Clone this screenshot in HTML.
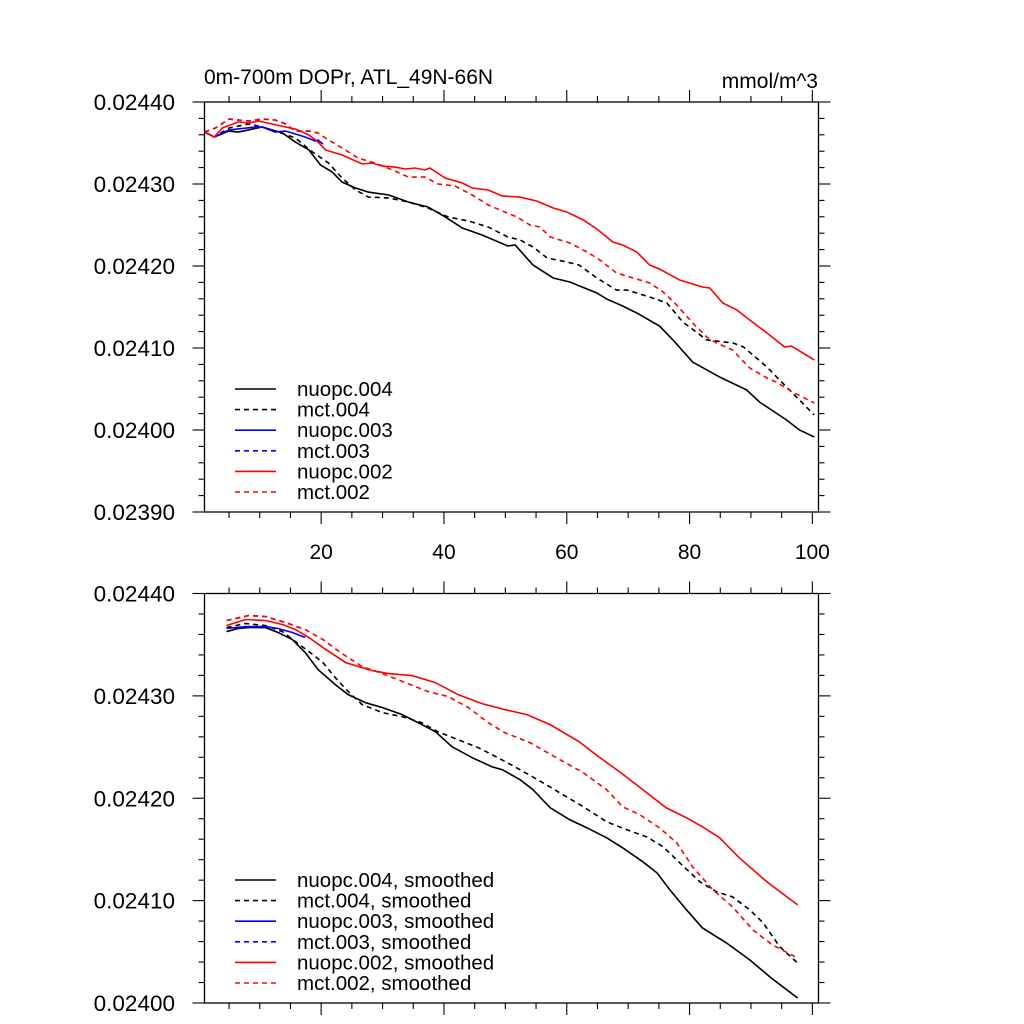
<!DOCTYPE html>
<html><head><meta charset="utf-8"><style>
html,body{margin:0;padding:0;background:#fff;}
svg{display:block;font-family:"Liberation Sans",sans-serif;}
</style></head><body>
<svg id="chart" width="1024" height="1024" viewBox="0 0 1024 1024" xmlns="http://www.w3.org/2000/svg">
<rect width="1024" height="1024" fill="#fff"/>
<text x="204" y="84" font-size="21">0m-700m DOPr, ATL_49N-66N</text>
<text x="818" y="88" font-size="21" text-anchor="end">mmol/m^3</text>
<g id="top"></g><g id="bot"></g>
</svg>
<script>
// ---- top panel data ----
const topYTicks = [0.02390, 0.02400, 0.02410, 0.02420, 0.02430, 0.02440];
const botYTicks = [0.02400, 0.02410, 0.02420, 0.02430, 0.02440];
const xTicks = [20, 40, 60, 80, 100];
const topLegend = ["nuopc.004","mct.004","nuopc.003","mct.003","nuopc.002","mct.002"];
const botLegend = ["nuopc.004, smoothed","mct.004, smoothed","nuopc.003, smoothed","mct.003, smoothed","nuopc.002, smoothed","mct.002, smoothed"];

const t_n004_x = [1,2.6,5,6.5,10.4,13.7,15.8,18,19.9,21.8,23.4,25.6,27.7,31,34.2,37.4,40.2,43,46.2,50.4,51.6,54.5,57.8,60.5,64.9,66.5,69.1,71.4,75.1,77.3,80.5,84.9,89.3,91.4,95.8,97.9,100.3];
const t_n004_y = [.0243634,.0243573,.0243646,.0243634,.0243695,.0243622,.0243512,.0243415,.0243232,.0243146,.0243024,.0242951,.0242902,.0242866,.024278,.024272,.0242598,.0242463,.0242378,.0242244,.0242256,.0242012,.0241854,.0241805,.0241671,.0241598,.0241512,.0241427,.0241268,.0241098,.0240829,.0240646,.0240488,.0240341,.0240122,.024,.0239915];

const t_m004_x = [1,2.6,5,8.2,10.4,13,15.8,18.6,21.2,23.4,25.6,27.7,31,34.2,37.4,40.7,44,47.2,50.4,52.4,54.5,56.8,60,62,64.9,68.1,69.8,73.5,76.3,78.9,82.8,87.1,88.8,92.6,95.8,100.3];
const t_m004_y = [.0243634,.0243573,.0243683,.0243732,.0243695,.0243634,.0243561,.024339,.0243256,.0243073,.0242927,.0242841,.0242829,.024278,.0242707,.0242598,.0242549,.0242476,.0242354,.0242317,.0242232,.0242098,.0242049,.0242012,.0241854,.0241707,.0241707,.0241622,.0241549,.0241317,.0241098,.0241061,.0241012,.0240768,.0240524,.0240183];

const t_n003_x = [1,2.6,5,6.5,9.3,10.4,12.5,14.2,15.8,17.4,19,19.5,20.3];
const t_n003_y = [.0243634,.0243573,.0243659,.0243671,.0243695,.0243695,.0243634,.0243646,.024361,.0243573,.0243524,.0243537,.0243488];

const t_m003_x = [1,2.8,5,6.5,8.2,10.4,12.5,13.9,15.8,18,19.5];
const t_m003_y = [.0243634,.0243683,.0243793,.024378,.0243768,.0243793,.024378,.0243744,.0243646,.0243646,.0243622];

const t_n002_x = [1,2.6,3.9,6.5,8.2,9.8,12,14.2,15.8,18,19.5,20.7,23.4,26.7,28.3,29.9,32,33.7,35.3,36.9,37.7,40.2,43,44.6,47.2,49.5,52.4,55.1,57.8,60,62.7,64.9,67.5,69.1,71.4,73.5,75.1,78.4,82.1,83.3,85.4,87.7,89.8,92.6,95.5,96.6,98.7,100.3];
const t_n002_y = [.0243634,.0243573,.0243683,.0243756,.0243744,.0243768,.0243732,.0243695,.0243671,.0243598,.0243512,.0243415,.0243354,.0243244,.0243256,.024322,.0243207,.0243183,.0243195,.0243171,.0243195,.0243073,.0243012,.0242951,.0242927,.0242854,.0242841,.0242793,.0242707,.0242659,.0242561,.0242451,.0242293,.0242256,.0242171,.0242012,.0241963,.0241829,.0241744,.0241732,.0241549,.0241463,.0241341,.0241183,.0241012,.0241024,.0240927,.0240854];

const t_m002_x = [1,2.8,5,6.5,8.2,10.4,12.5,13.9,15.8,18,19.5,21.2,23.4,26,28.8,31.6,34.2,36.9,39,41.8,44.6,47.2,49.9,51.9,54,55.6,57.3,60.5,63.3,65.4,68.1,70.8,73.5,75.7,77.9,80.5,82.8,84.4,87,89.8,92.6,94.1,96.8,100.3];
const t_m002_y = [.0243634,.0243683,.0243793,.024378,.0243768,.0243793,.024378,.0243744,.0243646,.0243646,.0243622,.0243537,.0243439,.0243317,.0243256,.0243171,.0243085,.0243085,.0243,.0242976,.0242866,.0242744,.0242659,.0242598,.02425,.0242476,.0242354,.0242281,.0242171,.0242073,.0241915,.0241854,.0241793,.0241683,.0241524,.0241305,.0241134,.0241061,.0240976,.0240756,.0240634,.0240585,.0240463,.0240329];

// ---- bottom panel (smoothed) data ----
const b_n004_x = [4.6,6.5,8.2,10.9,13,15.3,17.4,19.5,22.3,24.4,27.2,30,33.2,35.8,38.6,41.3,44.6,47.8,49.5,52.4,54.5,57.3,60.5,63.3,66.5,69.1,72.4,74.7,76.8,79.5,82.1,86,89.8,93.5,97.6];
const b_n004_y = [.0243628,.0243658,.0243667,.0243667,.0243619,.024355,.0243423,.0243257,.024311,.0243012,.0242934,.0242885,.0242817,.0242738,.024265,.0242504,.0242396,.0242308,.0242279,.0242181,.0242083,.0241907,.024179,.0241711,.0241614,.0241516,.0241379,.0241271,.0241105,.024091,.0240733,.0240587,.0240421,.0240235,.0240049];

const b_m004_x = [4.6,7.7,10.9,13.7,15.8,18,20.3,22.3,24.4,26.7,30,33.2,36.4,39,42.3,45.6,48.8,52.4,56.1,59.4,62.7,66.5,69.8,73,75.7,78.4,81.7,84.4,87,89.8,92,94.7,97.6];
const b_m004_y = [.0243667,.0243707,.0243687,.0243628,.0243531,.0243433,.0243325,.0243178,.0243042,.0242914,.0242836,.0242797,.0242738,.024265,.0242572,.0242494,.0242396,.0242279,.0242152,.0242034,.0241917,.024177,.0241692,.0241623,.0241526,.0241369,.0241183,.0241086,.0241037,.024091,.0240782,.0240548,.0240391];

const b_n003_x = [4.6,7.7,10.9,13,15.3,17.4];
const b_n003_y = [.0243658,.0243677,.0243677,.0243658,.0243619,.024357];

const b_m003_x = [4.6,8.2,10.9,14.2,17.4];
const b_m003_y = [.0243736,.0243785,.0243775,.0243716,.0243648];

const b_n002_x = [4.6,7.7,10.9,13.7,15.8,18,20.3,24,28.3,31,34.8,38.6,42.3,46.2,49.9,53.5,57.3,62,65.4,68.6,72.4,76.2,79.5,82.1,84.9,88.1,92.6,97.6];
const b_n002_y = [.0243687,.0243746,.0243736,.0243697,.0243648,.024357,.0243472,.0243325,.0243247,.0243218,.0243198,.024313,.0243012,.0242924,.0242866,.0242817,.0242719,.0242553,.0242396,.0242259,.0242083,.0241907,.0241809,.0241721,.0241614,.0241418,.0241183,.0240958];

const b_m002_x = [4.6,8.2,10.9,14.2,17.4,20.3,23.4,26.7,30.4,33.7,37.4,40.7,44,47.2,49.9,54,58.9,62.7,66.5,69.1,71.9,75.1,77.9,80.5,83.8,87,90.3,93.5,97.6];
const b_m002_y = [.0243736,.0243785,.0243775,.0243716,.0243648,.024355,.0243413,.0243286,.0243208,.024313,.0243042,.0242993,.0242885,.0242738,.0242641,.0242543,.0242376,.0242249,.0242083,.0241917,.0241839,.0241711,.0241565,.024133,.0241105,.0240939,.0240714,.0240567,.024044];

const NS = "http://www.w3.org/2000/svg";
function mk(tag, attrs, parent) {
  const e = document.createElementNS(NS, tag);
  for (const k in attrs) e.setAttribute(k, attrs[k]);
  parent.appendChild(e);
  return e;
}
const L = 204.5, R = 818.5, XMIN = 1, XMAX = 101;
function sx(v) { return L + (v - XMIN) / (XMAX - XMIN) * (R - L); }

function panel(g, top, bottom, ymin, ymax, yTicks, showXLabels, series, legend, legY) {
  const sy = v => bottom - (v - ymin) / (ymax - ymin) * (bottom - top);
  series.forEach(s => {
    const d = s.x.map((xv, i) => (i ? "L" : "M") + sx(xv).toFixed(2) + " " + sy(s.y[i]).toFixed(2)).join(" ");
    const p = mk("path", {d: d, fill: "none", stroke: s.c, "stroke-width": 1.6}, g);
    if (s.dash) p.setAttribute("stroke-dasharray", "5 4");
    
    
  });
  const fr = mk("rect", {x: L, y: top, width: R - L, height: bottom - top, fill: "none", stroke: "#000", "stroke-width": 1.3}, g);
  
  
  for (let v = 5; v <= 100; v += 5) {
    const major = v % 20 === 0;
    const len = major ? 12 : 6;
    const x = sx(v);
    mk("line", {x1: x, x2: x, y1: bottom, y2: bottom + len, stroke: "#000", "stroke-width": 1.1}, g);
    mk("line", {x1: x, x2: x, y1: top, y2: top - len, stroke: "#000", "stroke-width": 1.1}, g);
  }
  if (showXLabels) {
    xTicks.forEach(v => {
      const t = mk("text", {x: sx(v), y: bottom + 47, "font-size": 21, "text-anchor": "middle"}, g);
      t.textContent = v;
      
      
    });
  }
  const nMinor = Math.round((ymax - ymin) / 0.00002);
  for (let i = 0; i <= nMinor; i++) {
    const v = ymin + i * 0.00002;
    const major = i % 5 === 0;
    const len = major ? 12 : 6;
    const y = sy(v);
    mk("line", {x1: L, x2: L - len, y1: y, y2: y, stroke: "#000", "stroke-width": 1.1}, g);
    mk("line", {x1: R, x2: R + len, y1: y, y2: y, stroke: "#000", "stroke-width": 1.1}, g);
  }
  yTicks.forEach(v => {
    const t = mk("text", {x: 175, y: sy(v) + 8, "font-size": 22.5, "text-anchor": "end"}, g);
    t.textContent = v.toFixed(5);
    
    
  });
  series.forEach((s, i) => {
    const y = legY + i * 20.6;
    const ln = mk("line", {x1: 235, x2: 276, y1: y, y2: y, stroke: s.c, "stroke-width": 1.6}, g);
    if (s.dash) ln.setAttribute("stroke-dasharray", "5 4");
    
    
    const t = mk("text", {x: 297, y: y + 7, "font-size": 20.5}, g);
    t.textContent = legend[i];
    
    
  });
}

const gt = document.getElementById("top");


panel(gt, 102, 512, 0.02390, 0.02440, topYTicks, true, [
  {n: "nuopc-004", x: t_n004_x, y: t_n004_y, c: "#000", dash: false},
  {n: "mct-004", x: t_m004_x, y: t_m004_y, c: "#000", dash: true},
  {n: "nuopc-003", x: t_n003_x, y: t_n003_y, c: "#0000ff", dash: false},
  {n: "mct-003", x: t_m003_x, y: t_m003_y, c: "#0000ff", dash: true},
  {n: "nuopc-002", x: t_n002_x, y: t_n002_y, c: "#ff0000", dash: false},
  {n: "mct-002", x: t_m002_x, y: t_m002_y, c: "#ff0000", dash: true}
], topLegend, 389);

const gb = document.getElementById("bot");


panel(gb, 593.5, 1003, 0.02400, 0.02440, botYTicks, false, [
  {n: "nuopc-004-smoothed", x: b_n004_x, y: b_n004_y, c: "#000", dash: false},
  {n: "mct-004-smoothed", x: b_m004_x, y: b_m004_y, c: "#000", dash: true},
  {n: "nuopc-003-smoothed", x: b_n003_x, y: b_n003_y, c: "#0000ff", dash: false},
  {n: "mct-003-smoothed", x: b_m003_x, y: b_m003_y, c: "#0000ff", dash: true},
  {n: "nuopc-002-smoothed", x: b_n002_x, y: b_n002_y, c: "#ff0000", dash: false},
  {n: "mct-002-smoothed", x: b_m002_x, y: b_m002_y, c: "#ff0000", dash: true}
], botLegend, 880);
</script>
</body></html>
